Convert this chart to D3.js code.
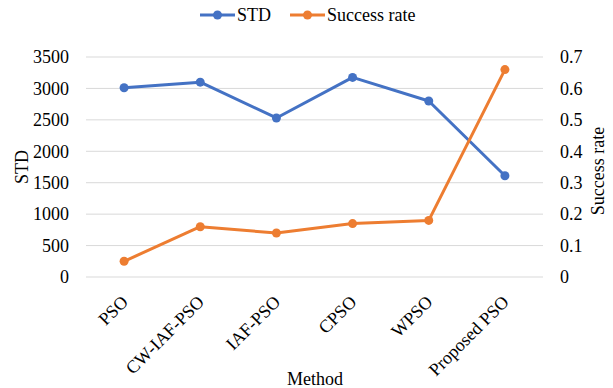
<!DOCTYPE html>
<html>
<head>
<meta charset="utf-8">
<script src="https://cdn.jsdelivr.net/npm/d3@7"></script>
<style>
  body { margin: 0; background: #fff; }
</style>
</head>
<body>
<svg id="chart" width="613" height="388"></svg>
<script>
const methods = ["PSO", "CW-IAF-PSO", "IAF-PSO", "CPSO", "WPSO", "Proposed PSO"];
const stdValues = [3010, 3100, 2530, 3175, 2800, 1610];
const successRate = [0.05, 0.16, 0.14, 0.17, 0.18, 0.66];
const stdTicks = [0, 500, 1000, 1500, 2000, 2500, 3000, 3500];
const rateTicks = [0, 0.1, 0.2, 0.3, 0.4, 0.5, 0.6, 0.7];

const blue = "#4472C4", orange = "#ED7D31";
const fontSize = 18;
const serif = '"Liberation Serif"';
const svg = d3.select("#chart");
const plotLeft = 86, plotRight = 543, plotTop = 57, plotBottom = 277;

const x = d3.scalePoint().domain(methods).range([plotLeft, plotRight]).padding(0.5);
const yL = d3.scaleLinear().domain([0, 3500]).range([plotBottom, plotTop]);
const yR = d3.scaleLinear().domain([0, 0.7]).range([plotBottom, plotTop]);

function label(sel) {
  return sel.style("font-family", serif).style("font-size", fontSize + "px").attr("fill", "#000");
}

// gridlines
svg.append("g").selectAll("line").data(stdTicks).join("line")
  .attr("x1", plotLeft).attr("x2", plotRight)
  .attr("y1", d => yL(d)).attr("y2", d => yL(d))
  .attr("stroke", "#d9d9d9").attr("stroke-width", 1);

// left axis labels
svg.append("g").selectAll("text").data(stdTicks).join("text")
  .attr("x", 69).attr("y", d => yL(d)).attr("dy", "0.35em")
  .attr("text-anchor", "end").call(label).text(d => d);

// right axis labels
svg.append("g").selectAll("text").data(rateTicks).join("text")
  .attr("x", 560).attr("y", d => yR(d)).attr("dy", "0.35em")
  .attr("text-anchor", "start").call(label).text(d => d3.format("~g")(d));

// axis titles
svg.append("text").attr("transform", "translate(28,167) rotate(-90)")
  .attr("text-anchor", "middle").call(label).text("STD");
svg.append("text").attr("transform", "translate(604,171) rotate(-90)")
  .attr("text-anchor", "middle").call(label).text("Success rate");
svg.append("text").attr("x", 315).attr("y", 385)
  .attr("text-anchor", "middle").call(label).text("Method");

// category labels
svg.append("g").selectAll("text").data(methods).join("text")
  .attr("transform", d => `translate(${x(d) + 5},${303}) rotate(-45)`)
  .attr("text-anchor", "end").call(label).text(d => d);

// series
function drawSeries(values, yScale, color) {
  const pts = methods.map((m, i) => [x(m), yScale(values[i])]);
  svg.append("path").datum(pts)
    .attr("d", d3.line())
    .attr("fill", "none").attr("stroke", color)
    .attr("stroke-width", 3).attr("stroke-linejoin", "round");
  svg.append("g").selectAll("circle").data(pts).join("circle")
    .attr("cx", d => d[0]).attr("cy", d => d[1]).attr("r", 4.5)
    .attr("fill", color);
}
drawSeries(stdValues, yL, blue);
drawSeries(successRate, yR, orange);

// legend
const legend = [["STD", blue, 200], ["Success rate", orange, 290]];
legend.forEach(([name, color, lx]) => {
  svg.append("line").attr("x1", lx).attr("x2", lx + 35)
    .attr("y1", 15).attr("y2", 15).attr("stroke", color).attr("stroke-width", 3);
  svg.append("circle").attr("cx", lx + 17.5).attr("cy", 15).attr("r", 4.5).attr("fill", color);
  svg.append("text").attr("x", lx + 37).attr("y", 15).attr("dy", "0.35em")
    .call(label).text(name);
});
</script>
</body>
</html>
